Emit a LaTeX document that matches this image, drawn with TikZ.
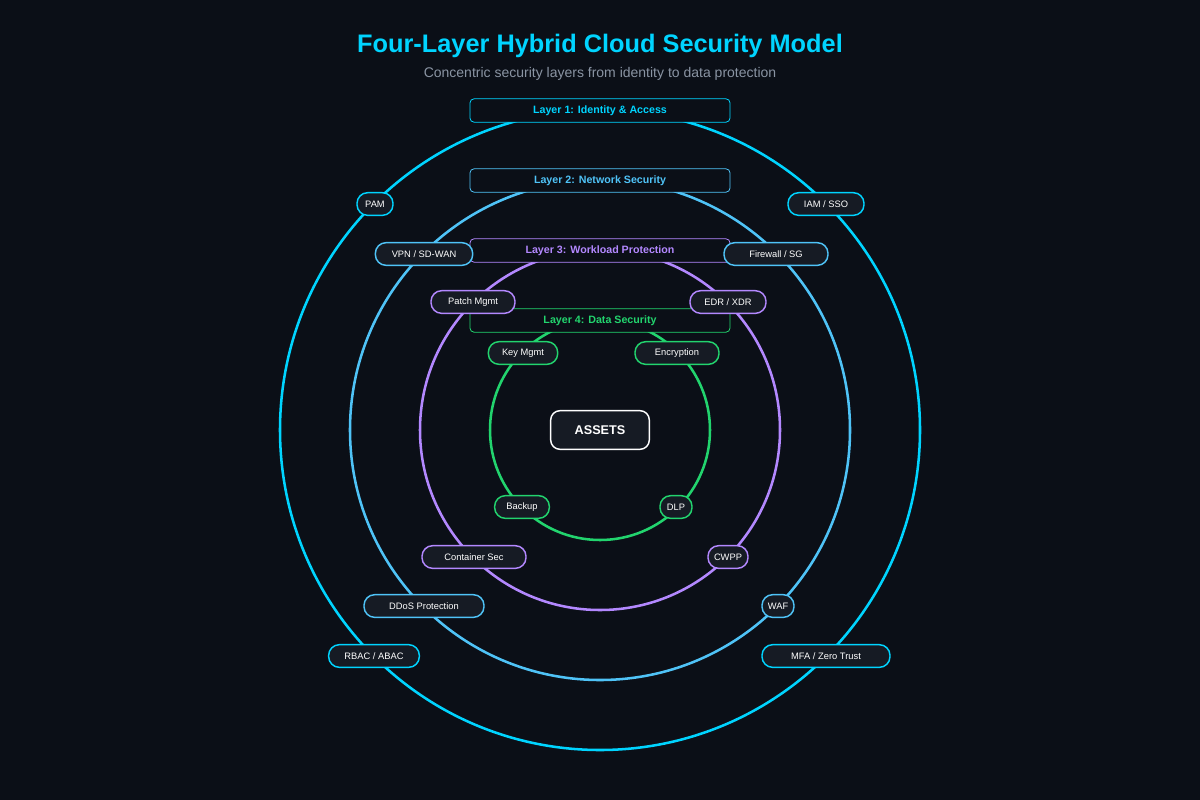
\documentclass[tikz,border=0pt]{standalone}
\usepackage{fontspec}
\setmainfont{Liberation Sans}
\begin{document}
\definecolor{bg}{HTML}{0B0F17}
\definecolor{cA}{HTML}{00D4FF}
\definecolor{cB}{HTML}{4FC3F7}
\definecolor{cC}{HTML}{B388FF}
\definecolor{cD}{HTML}{22D46E}
\definecolor{pill}{HTML}{161B24}
\definecolor{sub}{HTML}{8A94A3}
\begin{tikzpicture}[x=0.75pt,y=-0.75pt,
  ring/.style={line width=1.9pt},
  lay/.style={draw=#1,fill=bg,line width=0.6pt,rounded corners=3pt,minimum width=195pt,minimum height=17.5pt,inner sep=0pt,text=#1,font=\fontsize{8}{9}\selectfont\bfseries},
  pl/.style={draw=#1,fill=pill,line width=1.1pt,rounded corners=8pt,minimum height=17pt,inner sep=0pt,text=white,font=\fontsize{7}{8}\selectfont}]
\fill[bg] (0,0) rectangle (1200,800);
\useasboundingbox (0,0) rectangle (1200,800);
\node[text=cA,font=\fontsize{19}{22}\selectfont\bfseries] (title) at (600,46) {Four-Layer Hybrid Cloud Security Model};
\node[text=sub,font=\fontsize{10.5}{12}\selectfont] (subt) at (600,74) {Concentric security layers from identity to data protection};
\node[circle,draw=cA,ring,minimum size=480pt,inner sep=0pt] (r1) at (600,430) {};
\node[circle,draw=cB,ring,minimum size=375pt,inner sep=0pt] (r2) at (600,430) {};
\node[circle,draw=cC,ring,minimum size=270pt,inner sep=0pt] (r3) at (600,430) {};
\node[circle,draw=cD,ring,minimum size=165pt,inner sep=0pt] (r4) at (600,430) {};
\node[lay=cA] (l1) at (600,110.5) {Layer 1: Identity \& Access};
\node[lay=cB] (l2) at (600,180.5) {Layer 2: Network Security};
\node[lay=cC] (l3) at (600,250.5) {Layer 3: Workload Protection};
\node[lay=cD] (l4) at (600,320.5) {Layer 4: Data Security};
\node[draw=white,fill=pill,line width=1.1pt,rounded corners=7pt,minimum width=74pt,minimum height=29pt,text=white,font=\fontsize{9.5}{11}\selectfont\bfseries] (assets) at (600,430) {ASSETS};
\node[pl=cA,minimum width=27pt] (pam) at (375,204) {PAM};
\node[pl=cA,minimum width=57pt] (iam) at (826,204) {IAM / SSO};
\node[pl=cA,minimum width=68pt] (rbac) at (374,656) {RBAC / ABAC};
\node[pl=cA,minimum width=96pt] (mfa) at (826,656) {MFA / Zero Trust};
\node[pl=cB,minimum width=73pt] (vpn) at (424,254) {VPN / SD-WAN};
\node[pl=cB,minimum width=78pt] (fw) at (776,254) {Firewall / SG};
\node[pl=cB,minimum width=90pt] (ddos) at (424,606) {DDoS Protection};
\node[pl=cB,minimum width=24pt] (waf) at (778,606) {WAF};
\node[pl=cC,minimum width=63pt] (patch) at (473,302) {Patch Mgmt};
\node[pl=cC,minimum width=57pt] (edr) at (728,302) {EDR / XDR};
\node[pl=cC,minimum width=78pt] (cont) at (474,557) {Container Sec};
\node[pl=cC,minimum width=30pt] (cwpp) at (728,557) {CWPP};
\node[pl=cD,minimum width=52pt] (key) at (523,353) {Key Mgmt};
\node[pl=cD,minimum width=63pt] (enc) at (677,353) {Encryption};
\node[pl=cD,minimum width=41pt] (bak) at (522,507) {Backup};
\node[pl=cD,minimum width=24pt] (dlp) at (676,507) {DLP};
\end{tikzpicture}
\end{document}
